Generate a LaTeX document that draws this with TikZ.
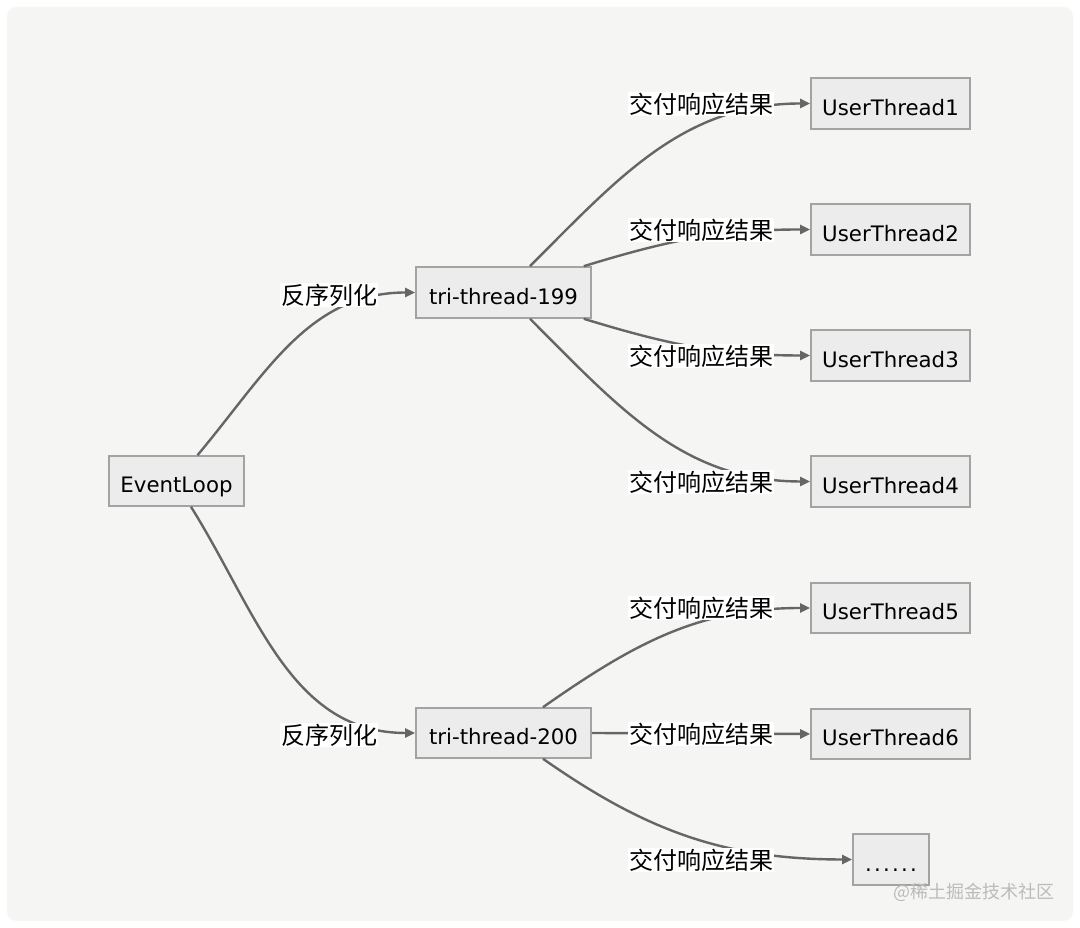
\documentclass[tikz,border=0pt]{standalone}
\usepackage{fontspec}
\setmainfont{DejaVu Sans}
\newfontfamily\cjk{Noto Sans CJK SC}
\usetikzlibrary{arrows.meta,calc}
\definecolor{bgc}{HTML}{F5F5F3}
\definecolor{boxfill}{HTML}{ECECEC}
\definecolor{boxline}{HTML}{A3A3A3}
\definecolor{edgec}{HTML}{666666}
\definecolor{wmark}{HTML}{BBBBBB}
\begin{document}
\begin{tikzpicture}[x=1pt,y=1pt,
  box/.style={draw=boxline,fill=boxfill,line width=1.6pt,inner sep=0pt,
    minimum height=50pt,text height=24pt,text depth=0pt,font=\fontsize{21.3}{24}\selectfont},
  lab/.style={fill=white,inner sep=1pt,font=\cjk\fontsize{24}{28}\selectfont},
  edge/.style={draw=edgec,line width=2.4pt,-{Triangle[length=10pt,width=9pt]}}]
\useasboundingbox (0,0) rectangle (1080,928);
\fill[white] (0,0) rectangle (1080,928);
\fill[bgc,rounded corners=10pt] (7,7) rectangle (1073,921);
% boxes
\node[box,minimum width=135pt] (el) at (176.5,447) {EventLoop};
\node[box,minimum width=175pt,minimum height=51pt] (t199) at (503.5,635.5) {tri-thread-199};
\node[box,minimum width=175pt] (t200) at (503.5,195) {tri-thread-200};
\node[box,minimum width=159pt,minimum height=51pt] (u1) at (890.5,824.5) {UserThread1};
\node[box,minimum width=159pt,minimum height=51pt] (u2) at (890.5,698.5) {UserThread2};
\node[box,minimum width=159pt,minimum height=51pt] (u3) at (890.5,572.5) {UserThread3};
\node[box,minimum width=159pt,minimum height=51pt] (u4) at (890.5,446.5) {UserThread4};
\node[box,minimum width=159pt] (u5) at (890.5,320) {UserThread5};
\node[box,minimum width=159pt] (u6) at (890.5,194) {UserThread6};
\node[box,minimum width=76pt,minimum height=51pt] (dots) at (891,68.5) {.\kern2.2pt.\kern2.2pt.\kern2.2pt.\kern2.2pt.\kern2.2pt.};
% edges
\draw[edge] ($(el.north)+(21,0)$) to[out=50,in=180] (t199.west);
\draw[edge] ($(el.south)+(14.5,0)$) to[out=-58,in=180] (t200.west);
\draw[edge] ($(t199.north)+(26.5,0)$) to[out=45,in=180] (u1.west);
\draw[edge] ($(t199.north east)+(-8,0)$) to[out=17,in=180] (u2.west);
\draw[edge] ($(t199.south east)+(-8,0)$) to[out=-17,in=180] (u3.west);
\draw[edge] ($(t199.south)+(26.5,0)$) to[out=-45,in=180] (u4.west);
\draw[edge] ($(t200.north)+(39.5,0)$) to[out=35,in=180] (u5.west);
\draw[edge] (t200.east) -- (u6.west);
\draw[edge] ($(t200.south)+(39.5,0)$) to[out=-35,in=180] (dots.west);
% labels
\node[lab] (l1) at (329,633) {反序列化};
\node[lab] (l2) at (329,193) {反序列化};
\node[lab] (m1) at (701,824) {交付响应结果};
\node[lab] (m2) at (701,698) {交付响应结果};
\node[lab] (m3) at (701,572) {交付响应结果};
\node[lab] (m4) at (701,446) {交付响应结果};
\node[lab] (m5) at (701,320) {交付响应结果};
\node[lab] (m6) at (701,194) {交付响应结果};
\node[lab] (m7) at (701,68) {交付响应结果};
\node[font=\cjk\fontsize{18}{20}\selectfont,text=wmark,inner sep=0pt] (wm) at (974,36) {@稀土掘金技术社区};
\end{tikzpicture}
\end{document}
